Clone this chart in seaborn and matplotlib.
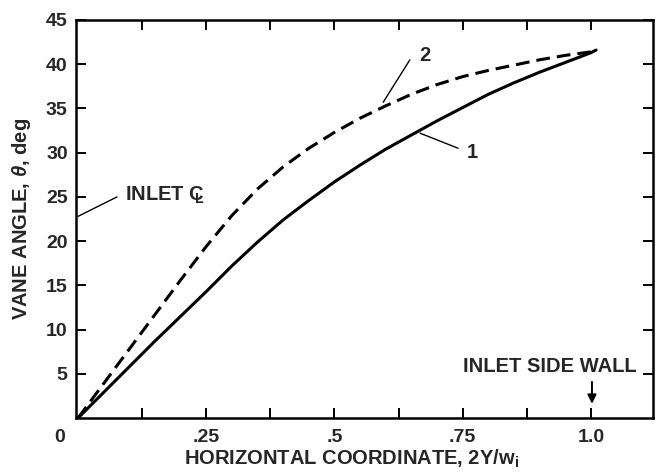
import numpy as np
import pandas as pd
import matplotlib
matplotlib.use("Agg")
import matplotlib.pyplot as plt
import seaborn as sns
from matplotlib.ticker import FixedLocator

# ---- data ----
x_vals = [0.0, 0.05, 0.1, 0.15, 0.2, 0.25, 0.3, 0.35, 0.4, 0.45, 0.5,
          0.55, 0.6, 0.65, 0.7, 0.75, 0.8, 0.85, 0.9, 0.95, 1.0, 1.01]
curve1 = [0.0, 2.9, 5.8, 8.7, 11.5, 14.3, 17.2, 19.9, 22.4, 24.6, 26.7,
          28.6, 30.4, 32.0, 33.6, 35.1, 36.6, 37.9, 39.1, 40.2, 41.3, 41.6]
curve2 = [0.0, 3.9, 7.8, 11.7, 15.6, 19.4, 22.9, 25.9, 28.4, 30.5, 32.3,
          33.9, 35.3, 36.6, 37.7, 38.6, 39.3, 39.9, 40.5, 41.0, 41.4, 41.6]
xtick_vals = [0.25, 0.5, 0.75, 1.0]
xtick_labels = [".25", ".5", ".75", "1.0"]
xminor_vals = [0.125, 0.375, 0.625, 0.875]
ytick_vals = [5, 10, 15, 20, 25, 30, 35, 40, 45]

df = pd.DataFrame({
    "x": x_vals * 2,
    "y": curve1 + curve2,
    "curve": ["1"] * len(x_vals) + ["2"] * len(x_vals),
})

sns.set_theme(style="ticks")
plt.rcParams["font.family"] = ["Liberation Sans", "DejaVu Sans"]
plt.rcParams["font.weight"] = "bold"
plt.rcParams["mathtext.fontset"] = "custom"
plt.rcParams["mathtext.rm"] = "Liberation Sans:bold"
plt.rcParams["mathtext.it"] = "Liberation Sans:italic:bold"
plt.rcParams["mathtext.bf"] = "Liberation Sans:bold"

fig = plt.figure(figsize=(6.59, 4.75), dpi=100)
ax = fig.add_axes([76 / 659, 57 / 475, 577 / 659, 398 / 475])

sns.lineplot(data=df, x="x", y="y", style="curve", color="black",
             dashes={"1": "", "2": (4.5, 2.3)}, linewidth=2.2,
             legend=False, ax=ax, sort=False)

ax.set_xlim(-0.004, 1.121)
ax.set_ylim(0, 45)

for s in ax.spines.values():
    s.set_visible(True)
    s.set_linewidth(1.8)
    s.set_color("black")

ax.xaxis.set_major_locator(FixedLocator(xtick_vals))
ax.set_xticklabels(xtick_labels)
ax.xaxis.set_minor_locator(FixedLocator(xminor_vals))
ax.yaxis.set_major_locator(FixedLocator(ytick_vals))
ax.set_yticklabels([str(v) for v in ytick_vals])
ax.tick_params(which="both", direction="in", length=7, width=1.4,
               top=True, right=True, color="black")
ax.tick_params(axis="x", which="major", labelsize=14, pad=8)
ax.tick_params(axis="y", which="major", labelsize=14, pad=6)
for lab in ax.get_xticklabels() + ax.get_yticklabels():
    lab.set_fontweight("bold")

# shared origin label
ax.text(-0.028, -0.049, "0", transform=ax.transAxes, ha="center", va="center",
        fontsize=14, fontweight="bold")

ax.set_xlabel(r"HORIZONTAL COORDINATE, 2Y/w$_\mathrm{i}$", fontsize=14.5,
              fontweight="bold", va="center")
ax.xaxis.set_label_coords((352 - 76) / 577, -0.102)
ax.set_ylabel(r"VANE ANGLE, $\theta$, deg", fontsize=14.5, fontweight="bold",
              va="center")
ax.yaxis.set_label_coords((22 - 76) / 577, 0.5)

# annotations
ax.plot([0.0, 0.076], [22.8, 25.0], color="black", lw=1.0, clip_on=False)
ax.text(0.092, 25.2, r"INLET C$\!\!\!_{\mathrm{L}}$", fontsize=14.5,
        fontweight="bold", ha="left", va="center")

ax.plot([0.647, 0.595], [40.5, 35.7], color="black", lw=1.0)
ax.text(0.677, 41.0, "2", fontsize=14.5, fontweight="bold", ha="center", va="center")

ax.plot([0.741, 0.667], [30.5, 32.2], color="black", lw=1.0)
ax.text(0.768, 30.0, "1", fontsize=14.5, fontweight="bold", ha="center", va="center")

ax.text(0.92, 5.8, "INLET SIDE WALL", fontsize=14.5, fontweight="bold",
        ha="center", va="center")
ax.annotate("", xy=(1.002, 1.3), xytext=(1.002, 4.4),
            arrowprops=dict(arrowstyle="-|>", color="black", lw=1.4,
                            mutation_scale=13))

fig.savefig("out.png", dpi=100)
